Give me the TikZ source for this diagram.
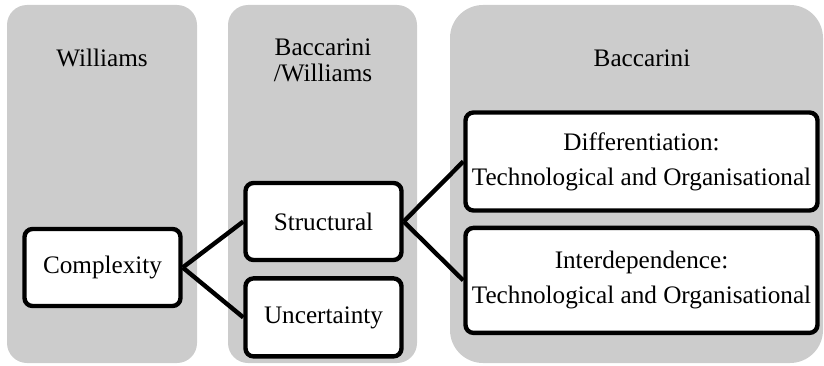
\documentclass[tikz,border=0pt]{standalone}
\usepackage{fontspec}
\setmainfont{Liberation Serif}
\usetikzlibrary{positioning}
\definecolor{panelgray}{RGB}{204,204,204}

\begin{document}
\begin{tikzpicture}[x=0.5pt,y=0.5pt,
        panel/.style={fill=panelgray, draw=none},
        head/.style={align=center, font=\fontsize{12.6}{12.9}\selectfont},
        box/.style={draw, line width=2.2pt, fill=white, rounded corners=4pt,
            align=center, inner sep=0pt, font=\fontsize{12.6}{17.5}\selectfont},
        link/.style={line width=2.2pt}]
    \useasboundingbox (0,0) rectangle (824,365);

    \fill[panel, rounded corners=10pt] (7,2) rectangle (197,360);
    \fill[panel, rounded corners=10pt] (228,2) rectangle (417,360);
    \fill[panel, rounded corners=16.5pt] (450,2) rectangle (823,360);

    \node[head, anchor=base] (h1) at (102,299) {Williams};
    \node[head] (h2) at (323,305) {Baccarini\\/Williams};
    \node[head, anchor=base] (h3) at (642,299) {Baccarini};

    \node[box, minimum width=78pt, minimum height=38.5pt] (cx) at (102.5,97.5) {Complexity};
    \node[box, minimum width=78pt, minimum height=38.5pt] (st) at (323.5,143.5) {Structural};
    \node[box, minimum width=78pt, minimum height=39pt, below=7pt of st] (un) {Uncertainty};
    \node[box, minimum width=176pt, minimum height=49pt] (df) at (641.5,203.5)
        {Differentiation:\\Technological and Organisational};
    \node[box, minimum width=176pt, minimum height=52.5pt, below=6.5pt of df] (id)
        {Interdependence:\\Technological and Organisational};

    \draw[link] (cx.east) -- (st.west);
    \draw[link] (cx.east) -- (un.west);
    \draw[link] (st.east) -- (df.west);
    \draw[link] (st.east) -- (id.west);
\end{tikzpicture}
\end{document}
